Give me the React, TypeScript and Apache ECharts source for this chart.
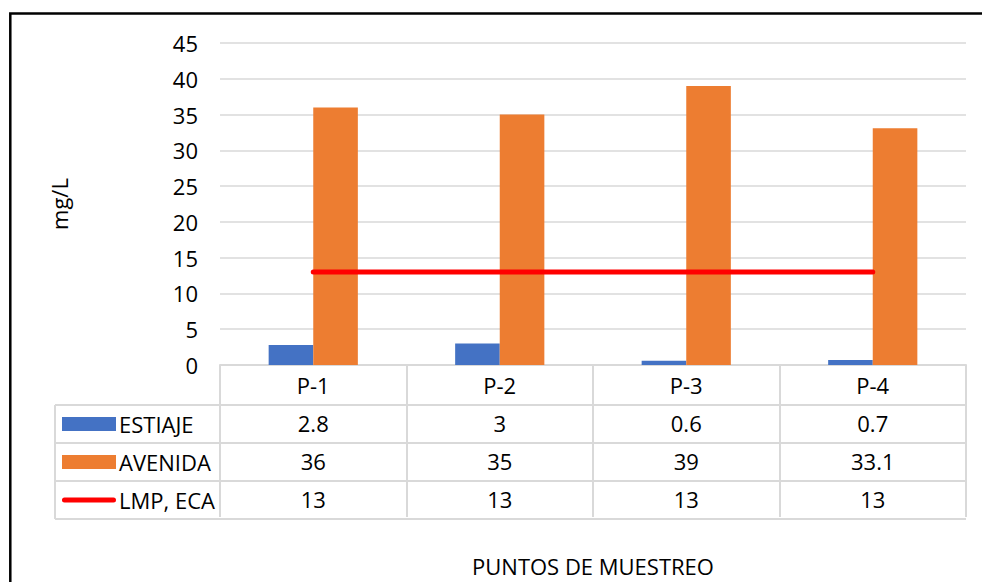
import React, { useEffect, useRef } from "react";
import * as echarts from "echarts";

const categories = ["P-1", "P-2", "P-3", "P-4"];
const seriesNames = ["ESTIAJE", "AVENIDA", "LMP, ECA"];
const estiaje = [2.8, 3, 0.6, 0.7];
const avenida = [36, 35, 39, 33.1];
const lmpEca = [13, 13, 13, 13];
const yTicks = { min: 0, max: 45, interval: 5 };
const xTitle = "PUNTOS DE MUESTREO";
const yTitle = "mg/L";

const FONT = "Open Sans";
const GRAY = "#d9d9d9";

export default function App() {
  const ref = useRef<HTMLDivElement>(null);
  useEffect(() => {
    document.body.style.margin = "0";
    const chart = echarts.init(ref.current!, null, { renderer: "svg" });
    const W = 982, H = 582;
    const gridLeft = 220, gridRight = 16, gridTop = 43, axisY = 367;
    const rowH = 38;
    const tableLeft = 55, tableRight = W - gridRight;
    const rows = [estiaje, avenida, lmpEca];
    const fs = 22;
    const labelStyle = { fontSize: fs, fontFamily: FONT, color: "#000", lineHeight: fs, margin: 9 };

    const extraAxes = rows.map((vals, i) => ({
      type: "category",
      gridIndex: 0,
      position: "bottom",
      offset: rowH * (i + 1),
      data: vals.map((v) => String(v)),
      axisLine: { show: false },
      axisTick: { show: false },
      axisLabel: labelStyle,
    }));

    const hLines = [1, 2, 3, 4].map((k) => ({
      type: "line",
      shape: { x1: tableLeft, y1: axisY + rowH * k, x2: tableRight, y2: axisY + rowH * k },
      style: { stroke: GRAY, lineWidth: 2 },
      silent: true,
    }));

    const lineIcon = "path://M2.5,0 L51.5,0 A2.5,2.5 0 0 1 51.5,5 L2.5,5 A2.5,2.5 0 0 1 2.5,0 Z";

    chart.setOption({
      animation: false,
      textStyle: { fontFamily: FONT },
      grid: { left: gridLeft, right: gridRight, top: gridTop, bottom: H - axisY, containLabel: false },
      legend: {
        orient: "vertical",
        left: 62,
        top: axisY + rowH + 8,
        padding: 0,
        itemWidth: 54,
        itemHeight: 14,
        itemGap: 16,
        textStyle: { fontSize: fs, fontFamily: FONT, color: "#000", lineHeight: fs, padding: [0, 0, 0, -2] },
        data: [
          { name: seriesNames[0], icon: "rect" },
          { name: seriesNames[1], icon: "rect" },
          { name: seriesNames[2], icon: lineIcon },
        ],
        selectedMode: false,
      },
      xAxis: [
        {
          type: "category",
          data: categories,
          axisLine: { show: true, lineStyle: { color: GRAY, width: 2 } },
          axisTick: { show: true, length: rowH * 4, lineStyle: { color: GRAY, width: 2 } },
          axisLabel: labelStyle,
          name: xTitle,
          nameLocation: "middle",
          nameGap: 190,
          nameTextStyle: { fontSize: fs, fontFamily: FONT, color: "#000" },
        },
        ...extraAxes,
      ],
      yAxis: {
        type: "value",
        min: yTicks.min,
        max: yTicks.max,
        interval: yTicks.interval,
        axisLine: { show: false },
        axisTick: { show: false },
        splitLine: { lineStyle: { color: GRAY, width: 1.5 } },
        axisLabel: { fontSize: fs, fontFamily: FONT, color: "#000", margin: 22 },
        name: yTitle,
        nameLocation: "middle",
        nameRotate: 90,
        nameGap: 150,
        nameTextStyle: { fontSize: fs, fontFamily: FONT, color: "#000" },
      },
      series: [
        {
          name: seriesNames[0],
          type: "bar",
          data: estiaje,
          barWidth: 44.6,
          barGap: "0%",
          itemStyle: { color: "#4472C4" },
        },
        {
          name: seriesNames[1],
          type: "bar",
          data: avenida,
          barWidth: 44.6,
          barGap: "0%",
          itemStyle: { color: "#ED7D31" },
        },
        {
          name: seriesNames[2],
          type: "line",
          data: lmpEca,
          symbol: "none",
          z: 5,
          itemStyle: { color: "#FF0000" },
          lineStyle: { color: "#FF0000", width: 5, cap: "round" },
        },
      ],
      graphic: [
        ...hLines,
        {
          type: "line",
          shape: { x1: tableLeft, y1: axisY + rowH, x2: tableLeft, y2: axisY + rowH * 4 },
          style: { stroke: GRAY, lineWidth: 2 },
          silent: true,
        },
        {
          type: "rect",
          shape: { x: 10.3, y: 13.5, width: W + 50, height: H + 50 },
          style: { fill: "none", stroke: "#000", lineWidth: 2.5 },
          silent: true,
        },
      ],
    });
    return () => chart.dispose();
  }, []);
  return <div ref={ref} style={{ width: 982, height: 582 }} />;
}
